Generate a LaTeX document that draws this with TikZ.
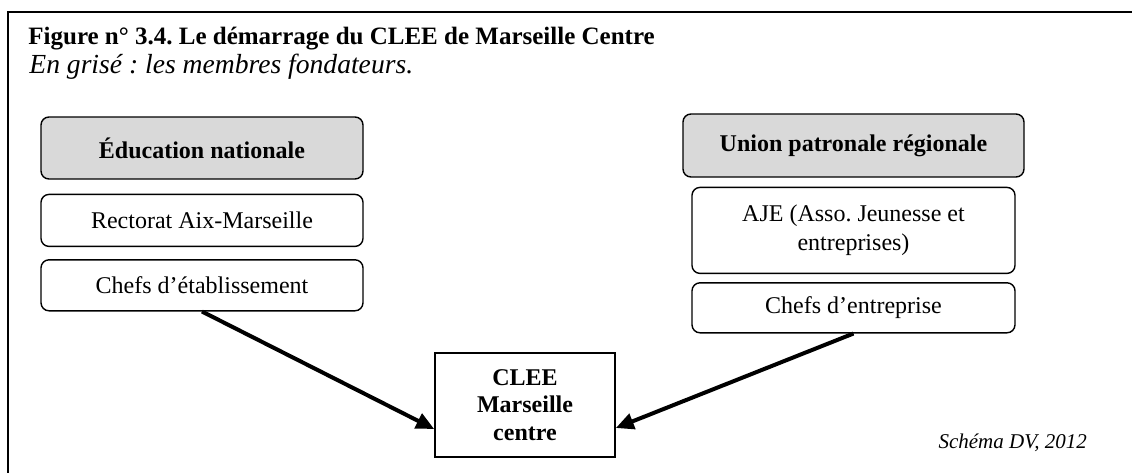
\documentclass[tikz,border=0pt]{standalone}
\usepackage{fontspec}
\setmainfont{Liberation Serif}
\usetikzlibrary{positioning,arrows.meta}
\definecolor{fondgris}{HTML}{D9D9D9}
\frenchspacing
\begin{document}
\begin{tikzpicture}[x=0.5pt, y=-0.5pt, font=\fontsize{12}{14.5}\selectfont,
    boite/.style={draw, rounded corners=4pt, line width=0.7pt, align=center, inner sep=0pt, minimum width=161pt},
    fondateur/.style={boite, fill=fondgris, font=\fontsize{12}{14.5}\selectfont\bfseries, minimum height=31pt},
    fleche/.style={line width=2pt, -{Triangle[length=9pt, width=8pt]}}]
  \useasboundingbox (0,0) rectangle (1132,473);
  \draw[line width=0.75pt] (1132,12) -- (8,12) -- (8,473);
  \node[anchor=base west, inner sep=0pt, font=\fontsize{12.5}{14}\selectfont\bfseries] (titre) at (28,44) {Figure n° 3.4. Le démarrage du CLEE de Marseille Centre};
  \node[anchor=base west, inner sep=0pt, font=\fontsize{13.8}{15}\selectfont\itshape] (legende) at (29,73) {En grisé : les membres fondateurs.};
  \node[fondateur] (educ) at (202,148) {Éducation nationale};
  \node[boite, minimum height=26pt, below=7pt of educ] (rectorat) {Rectorat Aix-Marseille};
  \node[boite, minimum height=25.5pt, below=6pt of rectorat] (chefsEt) {Chefs d’établissement};
  \node[fondateur, minimum width=170.5pt, minimum height=31.5pt] (union) at (853.5,145.5) {Union patronale régionale};
  \node[boite, minimum width=161.5pt, minimum height=43pt, below=4.5pt of union] (aje) {AJE (Asso. Jeunesse et\\entreprises)};
  \node[boite, minimum width=161.5pt, minimum height=25pt, below=4pt of aje] (chefsEn) {Chefs d’entreprise};
  \node[draw, line width=0.8pt, minimum width=90pt, minimum height=52pt, inner sep=0pt, align=center, font=\fontsize{12}{13.8}\selectfont\bfseries] (clee) at (525,405) {CLEE\\Marseille\\centre};
  \draw[fleche] (chefsEt.south) -- ([yshift=-12pt]clee.west);
  \draw[fleche] (chefsEn.south) -- ([yshift=-11.5pt]clee.east);
  \node[anchor=base east, font=\fontsize{10.5}{12}\selectfont\itshape] (source) at (1094,448) {Schéma DV, 2012};
\end{tikzpicture}
\end{document}
